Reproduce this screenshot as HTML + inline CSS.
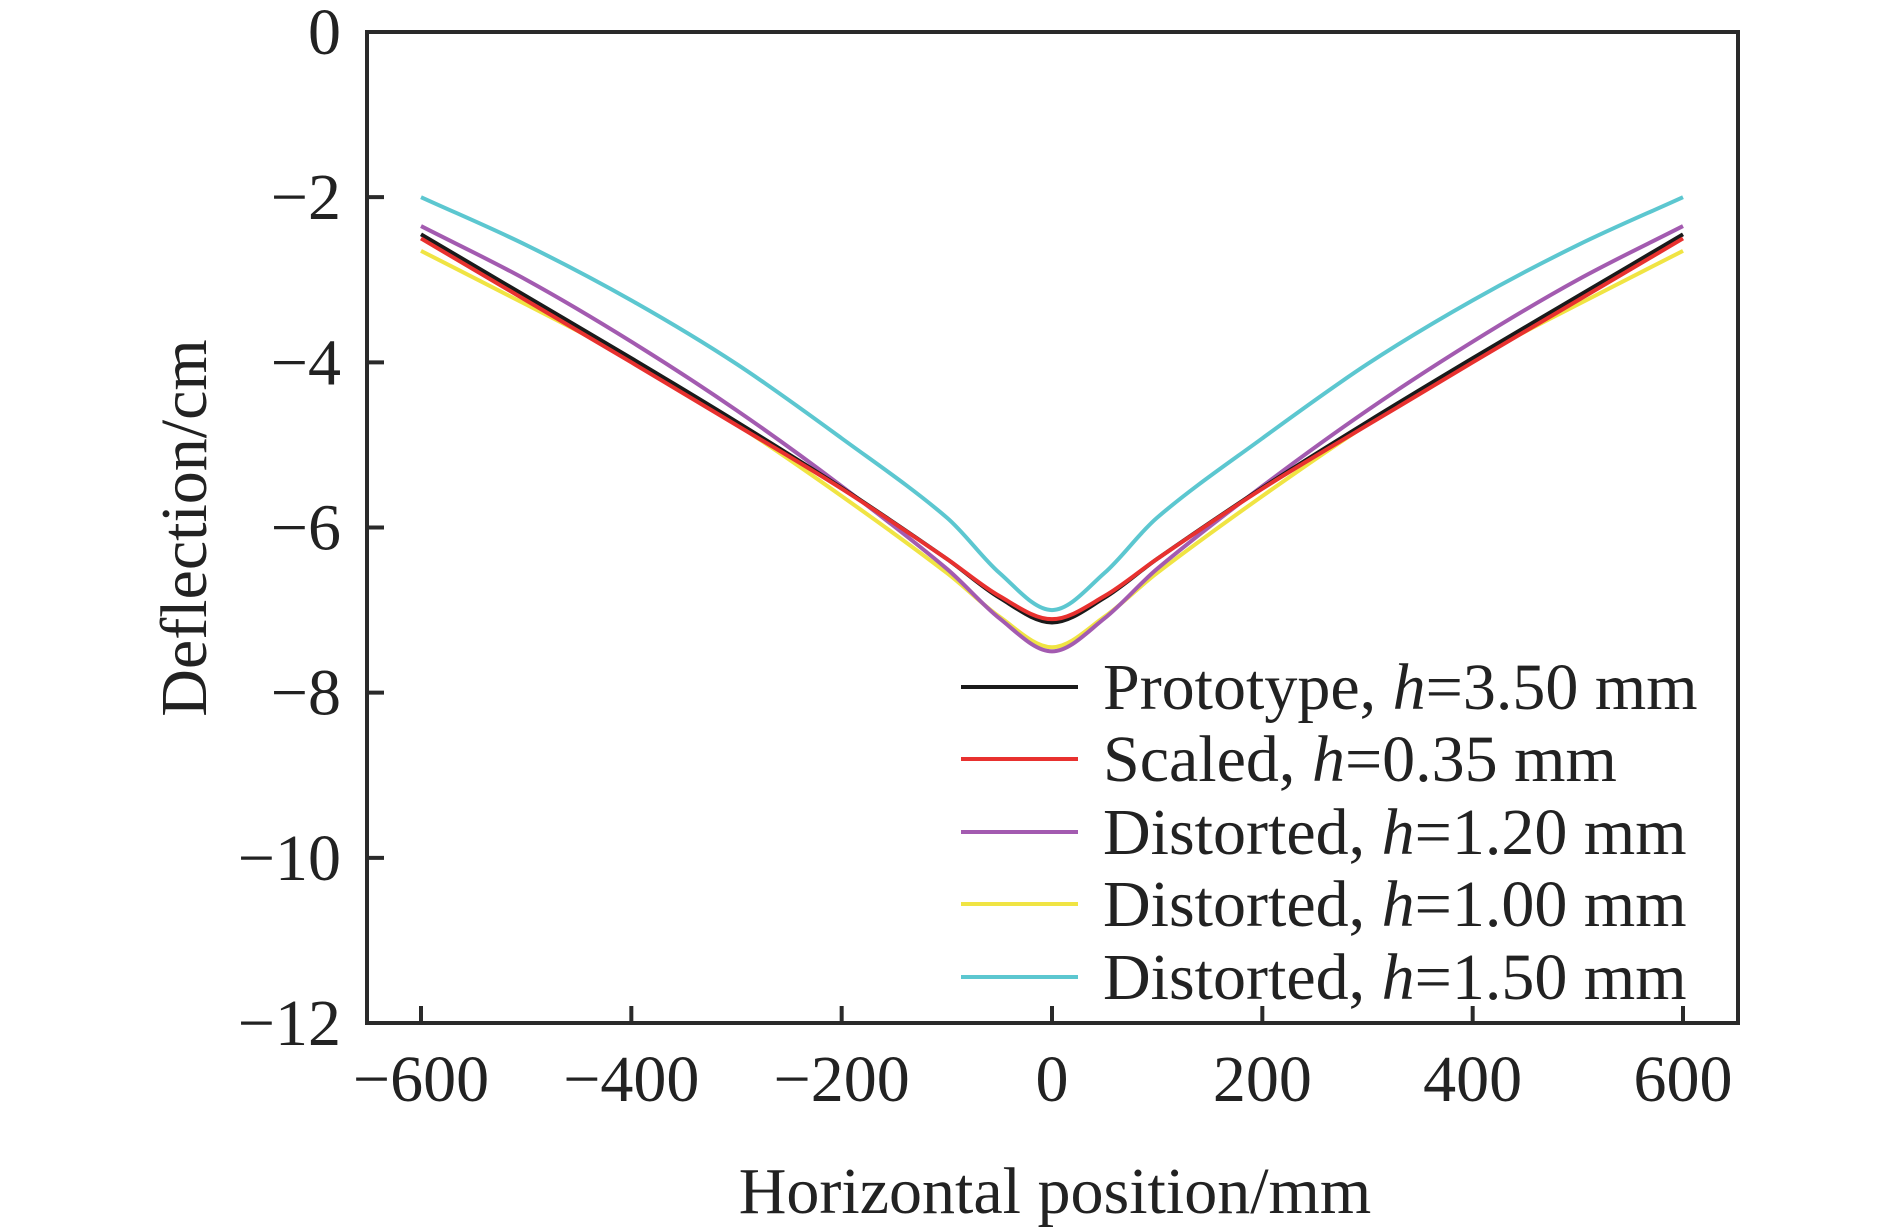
<!DOCTYPE html>
<html><head><meta charset="utf-8"><style>
html,body{margin:0;padding:0;background:#fff;}
svg{display:block;font-family:"Liberation Serif",serif;}
</style></head><body>
<svg id="chart" width="1890" height="1231" viewBox="0 0 1890 1231" xmlns="http://www.w3.org/2000/svg">
<g id="plot"></g>
</svg>
<script>
const xs = [-600,-500,-400,-300,-200,-100,-50,0,50,100,200,300,400,500,600];
const half = a => a.concat(a.slice(0,-1).reverse());
const prototypeVals = half([-2.45,-3.2,-3.95,-4.72,-5.52,-6.38,-6.85,-7.15]);
const scaledVals = half([-2.5,-3.25,-4.0,-4.76,-5.53,-6.38,-6.83,-7.11]);
const dist120Vals = half([-2.35,-3.0,-3.75,-4.58,-5.5,-6.5,-7.1,-7.5]);
const dist100Vals = half([-2.65,-3.3,-3.97,-4.75,-5.62,-6.55,-7.08,-7.45]);
const dist150Vals = half([-2.0,-2.58,-3.25,-4.02,-4.92,-5.88,-6.55,-7.0]);
const seriesNames = ["Prototype, ","Scaled, ","Distorted, ","Distorted, ","Distorted, "];
const seriesH = ["3.50 mm","0.35 mm","1.20 mm","1.00 mm","1.50 mm"];
const xTicks = [-600,-400,-200,0,200,400,600];
const yTicks = [0,-2,-4,-6,-8,-10,-12];

const NS="http://www.w3.org/2000/svg";
const g=document.getElementById('plot');
const L=367,R=1738,T=32,B=1023;
const X=v=>421+(v+600)*(1683-421)/1200;
const Y=v=>T+(0-v)*(B-T)/12;
function el(t,a,p){const e=document.createElementNS(NS,t);for(const k in a)e.setAttribute(k,a[k]);(p||g).appendChild(e);return e;}
const fmt=v=>v<0?"\u2212"+(-v):""+v;

const series=[
 {vals:prototypeVals,color:"#1a1a1a",name:"series-prototype"},
 {vals:scaledVals,color:"#e8312f",name:"series-scaled"},
 {vals:dist120Vals,color:"#a35bb0",name:"series-distorted-1-20"},
 {vals:dist100Vals,color:"#f0e443",name:"series-distorted-1-00"},
 {vals:dist150Vals,color:"#5cc7d0",name:"series-distorted-1-50"}
];
[3,2,4,0,1].forEach(i=>{
  const s=series[i];
  const P=xs.map((x,j)=>[X(x),Y(s.vals[j])]);
  let d="M"+P[0][0]+","+P[0][1];
  for(let j=0;j<P.length-1;j++){
    const p0=P[Math.max(j-1,0)],p1=P[j],p2=P[j+1],p3=P[Math.min(j+2,P.length-1)];
    const d1=p2[0]-p1[0];
    const t1=[(p2[0]-p0[0]),(p2[1]-p0[1])], t2=[(p3[0]-p1[0]),(p3[1]-p1[1])];
    const k1=d1/(t1[0]||1)/3, k2=d1/(t2[0]||1)/3;
    const c1=[p1[0]+t1[0]*k1,p1[1]+t1[1]*k1];
    const c2=[p2[0]-t2[0]*k2,p2[1]-t2[1]*k2];
    d+=" C"+c1+" "+c2+" "+p2;
  }
  const p=el('path',{d:d,fill:"none",stroke:s.color,"stroke-width":4,"stroke-linejoin":"round"});
  
  
});

const frame=el('rect',{x:L,y:T,width:R-L,height:B-T,fill:"none",stroke:"#2a2a2a","stroke-width":4});



xTicks.forEach(v=>{
  const t=el('line',{x1:X(v),x2:X(v),y1:B,y2:B-17,stroke:"#2a2a2a","stroke-width":4});
  
  
  const tx=el('text',{x:X(v),y:1101,"font-size":66,"text-anchor":"middle",fill:"#222"});
  tx.textContent=fmt(v);
  
  
});
yTicks.forEach(v=>{
  const t=el('line',{x1:L,x2:L+17,y1:Y(v),y2:Y(v),stroke:"#2a2a2a","stroke-width":4});
  
  
  const tx=el('text',{x:341,y:Y(v)+22,"font-size":66,"text-anchor":"end",fill:"#222"});
  tx.textContent=fmt(v);
  
  
});

const xt=el('text',{x:1055,y:1213,"font-size":66,"text-anchor":"middle",fill:"#222"});
xt.textContent="Horizontal position/mm";


const yt=el('text',{x:0,y:0,"font-size":66,"text-anchor":"middle",fill:"#222",transform:"translate(206,528) rotate(-90)"});
yt.textContent="Deflection/cm";



const legY=[687,759,832,904,977];
series.forEach((s,i)=>{
  const lg=el('g',{});
  
  
  el('line',{x1:961,x2:1078,y1:legY[i],y2:legY[i],stroke:s.color,"stroke-width":4},lg);
  const t=el('text',{x:1103,y:legY[i]+22,"font-size":66,fill:"#222"},lg);
  t.appendChild(document.createTextNode(seriesNames[i]));
  const it=el('tspan',{"font-style":"italic"},t);it.textContent="h";
  t.appendChild(document.createTextNode("="+seriesH[i]));
});
</script>
</body></html>
